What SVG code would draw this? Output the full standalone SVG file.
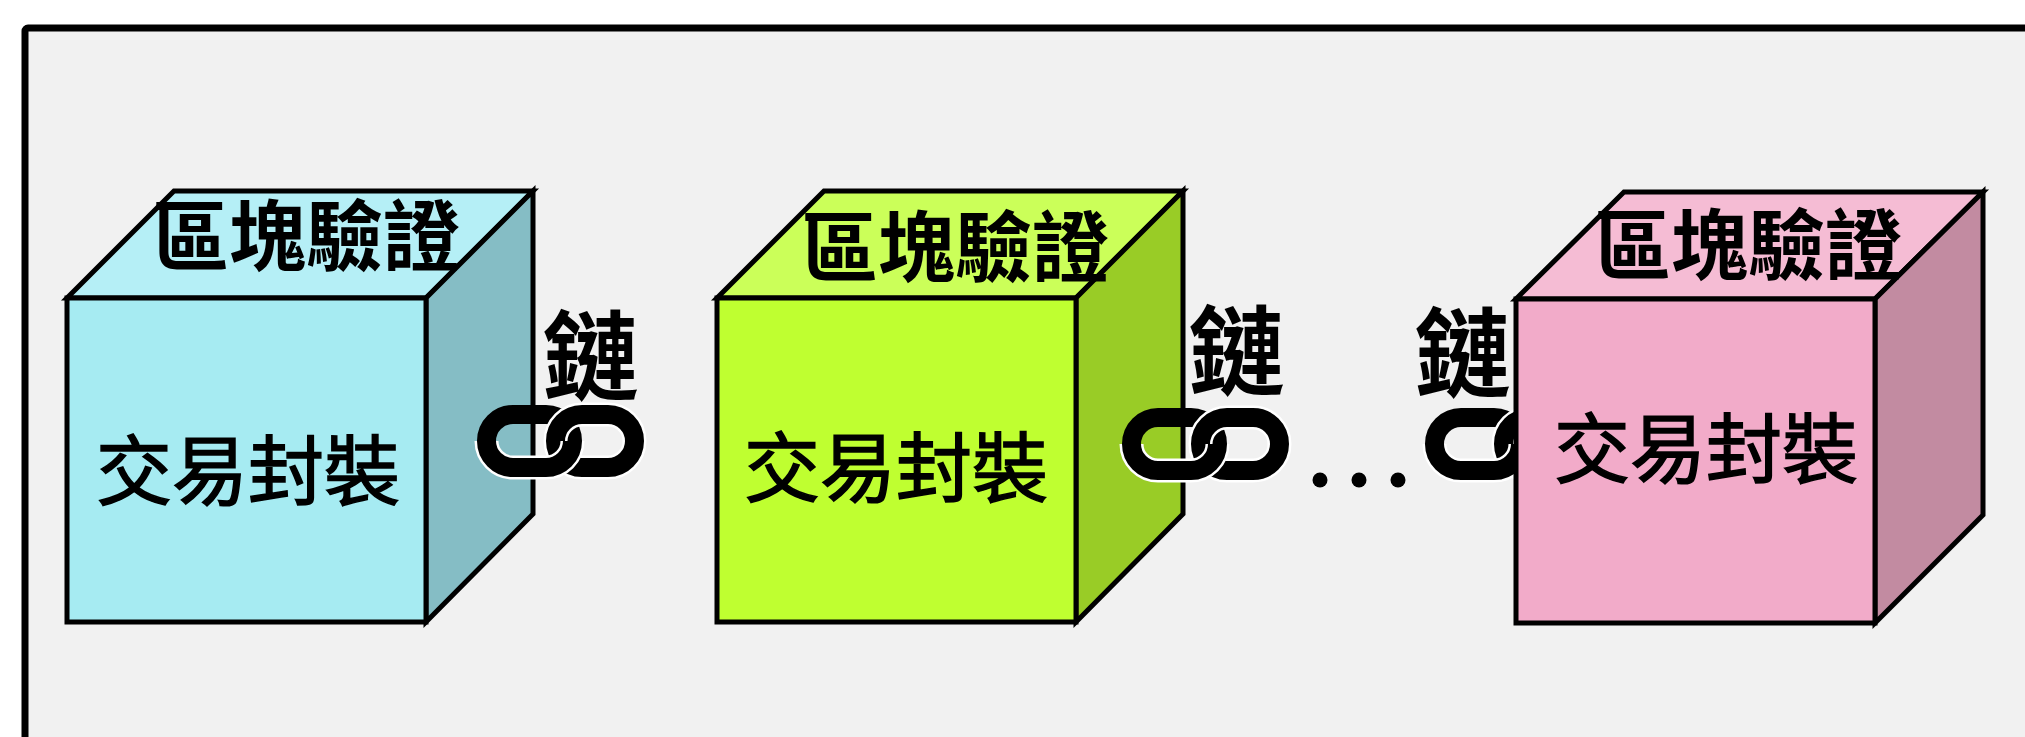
<svg xmlns="http://www.w3.org/2000/svg" xmlns:xlink="http://www.w3.org/1999/xlink" width="2025" height="737" viewBox="0 0 2025 737">
  <defs>
    <style>
      .edge { stroke: #000; stroke-width: 5; stroke-linejoin: miter; }
      .title { font-family: "Noto Sans CJK TC", "Noto Sans CJK SC", sans-serif; font-weight: 700; font-size: 77px; fill: #000; text-anchor: middle; }
      .body { font-family: "Noto Sans CJK TC", "Noto Sans CJK SC", sans-serif; font-weight: 400; font-size: 76px; fill: #000; stroke: #000; stroke-width: 1.5; text-anchor: middle; }
      .link-label { font-family: "Noto Sans CJK TC", "Noto Sans CJK SC", sans-serif; font-weight: 700; font-size: 97px; fill: #000; text-anchor: middle; }
      .ring { fill: none; stroke: #000; stroke-width: 19; }
      .halo { fill: none; stroke: #ffffff; stroke-width: 24; }
      .dot { fill: #000; }
    </style>
    <clipPath id="ring-lower" clipPathUnits="userSpaceOnUse">
      <rect x="-20" y="36" width="220" height="60"/>
    </clipPath>
    <!-- two interlocking oval links; local origin is the top-left of the outer outline -->
    <g id="chain-link">
      <rect class="ring" x="9.5" y="9.5" width="86" height="53" rx="26.5"/>
      <rect class="halo" x="78.5" y="9.5" width="79" height="53" rx="26.5"/>
      <rect class="ring" x="78.5" y="9.5" width="79" height="53" rx="26.5"/>
      <g clip-path="url(#ring-lower)">
        <rect class="halo" x="9.5" y="9.5" width="86" height="53" rx="26.5"/>
        <rect class="ring" x="9.5" y="9.5" width="86" height="53" rx="26.5"/>
      </g>
    </g>
  </defs>

  <!-- page and frame -->
  <rect x="0" y="0" width="2025" height="737" fill="#ffffff"/>
  <rect x="25" y="28" width="2100" height="800" rx="3" fill="#f1f1f1" stroke="#000" stroke-width="7"/>

  <!-- block 1 -->
  <g id="block-1">
    <polygon class="edge" fill="#b5eff6" points="67,298 174,191 533,191 426,298"/>
    <polygon class="edge" fill="#85bdc5" points="426,298 533,191 533,514 426,622"/>
    <rect class="edge" fill="#a6ebf2" x="67" y="298" width="359" height="324"/>
    <text class="title" x="306" y="265">區塊驗證</text>
    <text class="body" x="248" y="499">交易封裝</text>
  </g>

  <!-- block 2 -->
  <g id="block-2">
    <polygon class="edge" fill="#cbff59" points="717,298 824,191 1183,191 1076,298"/>
    <polygon class="edge" fill="#99cc26" points="1076,298 1183,191 1183,514 1076,622"/>
    <rect class="edge" fill="#bfff30" x="717" y="298" width="359" height="324"/>
    <text class="title" x="955" y="276">區塊驗證</text>
    <text class="body" x="896" y="496">交易封裝</text>
  </g>

  <!-- chain links between blocks -->
  <g id="connectors">
    <g id="link-1">
      <use xlink:href="#chain-link" href="#chain-link" x="477" y="405"/>
      <text class="link-label" x="591" y="392">鏈</text>
    </g>
    <g id="link-2">
      <use xlink:href="#chain-link" href="#chain-link" x="1122" y="408"/>
      <text class="link-label" x="1237" y="387">鏈</text>
    </g>
    <g id="ellipsis">
      <circle class="dot" cx="1320" cy="480" r="7.5"/>
      <circle class="dot" cx="1359" cy="480" r="7.5"/>
      <circle class="dot" cx="1398" cy="480" r="7.5"/>
    </g>
    <g id="link-3">
      <use xlink:href="#chain-link" href="#chain-link" x="1425" y="408"/>
      <text class="link-label" x="1463" y="389">鏈</text>
    </g>
  </g>

  <!-- block 3 -->
  <g id="block-3">
    <polygon class="edge" fill="#f5bcd4" points="1516,299 1624,192 1983,192 1875,299"/>
    <polygon class="edge" fill="#c28ba1" points="1875,299 1983,192 1983,515 1875,623"/>
    <rect class="edge" fill="#f2abc9" x="1516" y="299" width="359" height="324"/>
    <text class="title" x="1748" y="274">區塊驗證</text>
    <text class="body" x="1706" y="477">交易封裝</text>
  </g>
</svg>
